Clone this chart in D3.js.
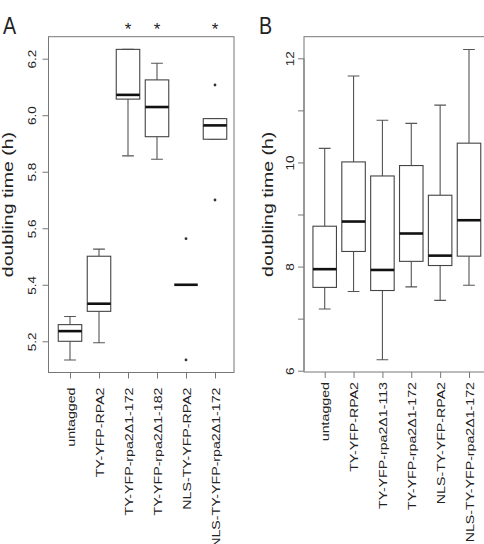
<!DOCTYPE html>
<html>
<head>
<meta charset="utf-8">
<script src="https://cdn.jsdelivr.net/npm/d3@7"></script>
<style>
  body { margin: 0; background: #fff; }
  text { font-family: "Liberation Sans", Arial, sans-serif; fill: #222; }
</style>
</head>
<body>
<svg id="chart" width="484" height="544"></svg>
<script>
// panel A: doubling time (h)
let catsA = ["untagged", "TY-YFP-RPA2", "TY-YFP-rpa2\u03941-172", "TY-YFP-rpa2\u03941-182", "NLS-TY-YFP-RPA2", "NLS-TY-YFP-rpa2\u03941-172"],
    lowA  = [5.134, 5.195, 5.856, 5.844, 5.40, 5.915],
    q1A   = [5.200, 5.306, 6.057, 5.924, 5.40, 5.915],
    medA  = [5.236, 5.333, 6.072, 6.029, 5.40, 5.964],
    q3A   = [5.259, 5.501, 6.233, 6.125, 5.40, 5.988],
    highA = [5.288, 5.526, 6.233, 6.184, 5.40, 5.988],
    outA  = [[], [], [], [], [5.563, 5.134], [6.107, 5.70]],
    starA = [false, false, true, true, false, true],
    ticksA = [5.2, 5.4, 5.6, 5.8, 6.0, 6.2];

// panel B
let catsB = ["untagged", "TY-YFP-RPA2", "TY-YFP-rpa2\u03941-113", "TY-YFP-rpa2\u03941-172", "NLS-TY-YFP-RPA2", "NLS-TY-YFP-rpa2\u03941-172"],
    lowB  = [7.185, 7.52, 6.21, 7.61, 7.35, 7.64],
    q1B   = [7.60, 8.29, 7.54, 8.10, 8.02, 8.20],
    medB  = [7.95, 8.865, 7.935, 8.635, 8.21, 8.89],
    q3B   = [8.775, 10.01, 9.74, 9.94, 9.37, 10.37],
    highB = [10.27, 11.66, 10.81, 10.75, 11.10, 12.17],
    ticksB = [6, 7, 8, 9, 10, 11, 12],
    labelsB = [6, 8, 10, 12];

let svg = d3.select("#chart");

function drawPanel(p) {
  let g = svg.append("g");
  let x = d3.scalePoint().domain(p.cats).range(p.xr);
  let y = d3.scaleLinear().domain(p.yd).range(p.yr);
  let bw = 23.5;

  // frame
  g.append("rect")
      .attr("x", p.frame[0]).attr("y", p.frame[1])
      .attr("width", p.frame[2] - p.frame[0]).attr("height", p.frame[3] - p.frame[1])
      .attr("fill", "none").attr("stroke", "#777").attr("stroke-width", 1);

  // y axis
  let ya = g.append("g")
      .attr("transform", "translate(" + p.frame[0] + ",0)")
      .call(d3.axisLeft(y).tickValues(p.ticks).tickSize(6)
        .tickFormat(d => p.labels.indexOf(d) >= 0 ? p.fmt(d) : ""));
  ya.select(".domain").attr("stroke", "#777").attr("d", "M0," + y(p.ticks[0]) + "V" + y(p.ticks[p.ticks.length - 1]));
  ya.selectAll(".tick line").attr("stroke", "#777");
  ya.selectAll(".tick text")
      .attr("x", null).attr("dy", null)
      .attr("text-anchor", "middle")
      .attr("transform", "translate(" + p.ylabOff + ",0) scale(0.85,1) rotate(-90)")
      .style("font-family", "Liberation Sans, Arial, sans-serif")
      .style("font-size", "13.5px").attr("fill", "#222");

  // x axis
  let xa = g.append("g")
      .attr("transform", "translate(0," + p.frame[3] + ")")
      .call(d3.axisBottom(x).tickSize(6));
  xa.select(".domain").remove();
  xa.selectAll(".tick line").attr("stroke", "#777");
  xa.selectAll(".tick text")
      .attr("y", null).attr("dy", null)
      .attr("text-anchor", "end")
      .attr("transform", "translate(4," + p.xlabOff + ") scale(0.78,1) rotate(-90)")
      .style("font-family", "Liberation Sans, Arial, sans-serif")
      .style("font-size", "14.2px").attr("fill", "#222");

  let idx = d3.range(p.cats.length);
  let b = g.append("g");

  // whiskers
  b.selectAll(".wh").data(idx).join("path")
      .attr("d", i => "M" + x(p.cats[i]) + "," + y(p.q3[i]) + "V" + y(p.high[i]) +
                      "M" + x(p.cats[i]) + "," + y(p.q1[i]) + "V" + y(p.low[i]) +
                      "M" + (x(p.cats[i]) - bw / 4) + "," + y(p.high[i]) + "h" + (bw / 2) +
                      "M" + (x(p.cats[i]) - bw / 4) + "," + y(p.low[i]) + "h" + (bw / 2))
      .attr("stroke", "#555").attr("stroke-width", 1.1).attr("fill", "none");

  // boxes
  b.selectAll(".box").data(idx).join("rect")
      .attr("x", i => x(p.cats[i]) - bw / 2)
      .attr("y", i => y(p.q3[i]))
      .attr("width", bw)
      .attr("height", i => y(p.q1[i]) - y(p.q3[i]))
      .attr("fill", "#fff").attr("stroke", "#444").attr("stroke-width", 1.1);

  // medians
  b.selectAll(".med").data(idx).join("line")
      .attr("x1", i => x(p.cats[i]) - bw / 2).attr("x2", i => x(p.cats[i]) + bw / 2)
      .attr("y1", i => y(p.med[i])).attr("y2", i => y(p.med[i]))
      .attr("stroke", "#111").attr("stroke-width", 2.6);

  // outliers
  if (p.out) {
    let pts = [];
    p.out.forEach((arr, i) => arr.forEach(v => pts.push([p.cats[i], v])));
    b.selectAll(".out").data(pts).join("circle")
        .attr("cx", d => x(d[0])).attr("cy", d => y(d[1]))
        .attr("r", 1.4).attr("fill", "#333");
  }

  // significance stars
  if (p.star) {
    b.selectAll(".star").data(idx.filter(i => p.star[i])).join("text")
        .attr("x", i => x(p.cats[i])).attr("y", 35)
        .attr("text-anchor", "middle")
        .style("font-size", "17px")
        .text("*");
  }

  // axis title
  g.append("text")
      .attr("transform", "translate(" + p.titleX + "," + ((p.frame[1] + p.frame[3]) / 2) + ") scale(0.72,1) rotate(-90)")
      .attr("text-anchor", "middle")
      .style("font-size", "19.5px")
      .text("doubling time (h)");

  // panel letter
  g.append("text")
      .attr("transform", "translate(" + p.letterX + ",34) scale(0.82,1)")
      .style("font-size", "24px")
      .text(p.letter);
}

drawPanel({
  cats: catsA, low: lowA, q1: q1A, med: medA, q3: q3A, high: highA, out: outA, star: starA,
  ticks: ticksA, labels: ticksA, fmt: d3.format(".1f"),
  xr: [70, 215], yd: [5.2, 6.2], yr: [341.3, 58.7],
  frame: [48.5, 36.7, 234, 372.5],
  ylabOff: -13, xlabOff: 15, titleX: 13, letter: "A", letterX: 3
});

drawPanel({
  cats: catsB, low: lowB, q1: q1B, med: medB, q3: q3B, high: highB,
  ticks: ticksB, labels: labelsB, fmt: d3.format("d"),
  xr: [324.7, 469], yd: [6, 12], yr: [370.7, 58.3],
  frame: [304, 36.7, 492, 372],
  ylabOff: -10, xlabOff: 10, titleX: 273, letter: "B", letterX: 259
});
</script>
</body>
</html>
